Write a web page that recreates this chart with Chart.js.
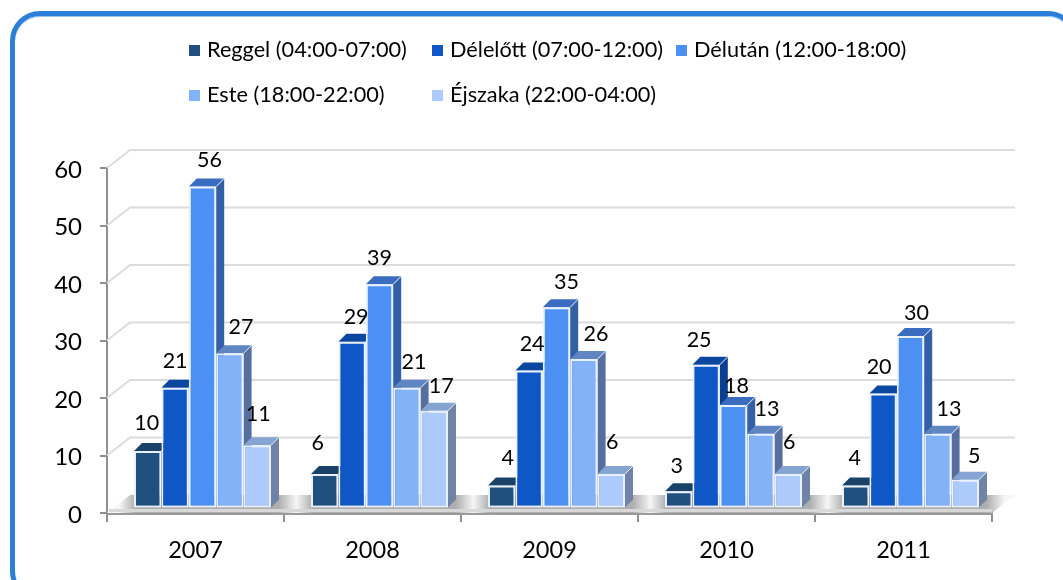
<!DOCTYPE html>
<html>
<head>
<meta charset="utf-8">
<style>
html,body{margin:0;padding:0;background:#fff;width:1063px;height:580px;overflow:hidden}
#wrap{position:absolute;left:0;top:0;width:1063px;height:580px;overflow:hidden}
#frame{position:absolute;left:10px;top:11px;width:1068px;height:590px;border:5px solid #2b7fd8;border-radius:30px;box-sizing:border-box;box-shadow:inset 0 1px 0 0 #9cc4ee}
canvas{position:absolute;left:0;top:0}
</style>
<script src="https://cdn.jsdelivr.net/npm/chart.js@4"></script>
</head>
<body>
<div id="wrap"><div id="frame"></div><canvas id="c" width="1063" height="580"></canvas></div>
<script>
const years = ['2007','2008','2009','2010','2011'];
const seriesNames = ['Reggel (04:00-07:00)','Délelőtt (07:00-12:00)','Délután (12:00-18:00)','Este (18:00-22:00)','Éjszaka (22:00-04:00)'];
const reggel  = [10,6,4,3,4];
const delelott= [21,29,24,25,20];
const delutan = [56,39,35,18,30];
const este    = [27,21,26,13,13];
const ejszaka = [11,17,6,6,5];
const yTicks  = [0,10,20,30,40,50,60];

const frontColors = ['#21507f','#0f57c6','#4b90f2','#83b2f8','#accbfc'];
const sideColors  = ['#183a5c','#0c3f90','#335fa6','#566f9f','#6e83a6'];
const topColors   = ['#1a4168','#0c479f','#3a6cbf','#5f85c2','#86a4d2'];

// label nudges, [series][year], relative to the top-centre of each bar
const labelDX = [[-1,-7,6,-2,-1],[0,4,3,-7,-4],[7,0,10,3,6],[11,7,12,6,11],[1,7,1,1,9]];
const labelDY = [[-28,-31,-27,-25,-27],[-27,-25,-26,-25,-26],[-26,-26,-25,-19,-23],[-26,-26,-25,-25,-25],[-31,-25,-32,-32,-24]];

const FONT = 'Lato, Carlito, sans-serif';
const DEPTH_X = 23, DEPTH_Y = 18;   // back wall offset
const BAR_DX = 7, BAR_DY = 4.5;     // bars stand inside the floor
const BAR_DEPTH_X = 8, BAR_DEPTH_Y = 8;

function barTransform(ctx){
  ctx.translate(BAR_DX, -BAR_DY);
}

const wall3d = {
  id:'wall3d',
  beforeDatasetsDraw(chart){
    const {ctx, scales:{x,y}} = chart;
    const L = x.left, R = x.right, B = y.getPixelForValue(0);
    ctx.save();
    // gridlines: side wall and back wall
    ctx.strokeStyle = '#dcdcdc'; ctx.lineWidth = 2;
    yTicks.forEach(v=>{
      if(v===0) return;
      const p = y.getPixelForValue(v);
      ctx.beginPath();
      ctx.moveTo(L,p); ctx.lineTo(L+DEPTH_X,p-DEPTH_Y); ctx.lineTo(R+DEPTH_X,p-DEPTH_Y);
      ctx.stroke();
    });
    // floor: a soft grey band that lightens in each gap between year groups
    const span = R+DEPTH_X-L, period = (R-L)/years.length/span;
    const g = ctx.createLinearGradient(L,0,R+DEPTH_X,0);
    for(let i=0;i<=years.length;i++){
      const s=i*period;
      [[-0.03,'#aeaeae'],[0.07,'#f6f6f6'],[0.16,'#aeaeae']].forEach(([o,c])=>{
        const t=s+o*period;
        if(t>=0&&t<=1) g.addColorStop(t,c);
      });
    }
    ctx.fillStyle = g;
    ctx.beginPath();
    ctx.moveTo(L,B); ctx.lineTo(L+DEPTH_X,B-DEPTH_Y); ctx.lineTo(R+DEPTH_X,B-DEPTH_Y); ctx.lineTo(R,B);
    ctx.closePath(); ctx.fill();
    ctx.fillStyle='#d8d8d8';
    ctx.fillRect(L+2,B-4,R-L-2,3);
    ctx.restore();
    // bar sides and tops
    ctx.save();
    barTransform(ctx);
    chart.data.datasets.forEach((ds,i)=>{
      chart.getDatasetMeta(i).data.forEach(el=>{
        const p = el.getProps(['x','y','base','width'],false);
        const l=p.x-p.width/2, r=p.x+p.width/2, t=p.y, b=p.base;
        ctx.fillStyle = sideColors[i];
        ctx.strokeStyle = 'rgba(235,242,255,.9)'; ctx.lineWidth = 1;
        ctx.beginPath();
        ctx.moveTo(r,t); ctx.lineTo(r+BAR_DEPTH_X,t-BAR_DEPTH_Y); ctx.lineTo(r+BAR_DEPTH_X,b-BAR_DEPTH_Y); ctx.lineTo(r,b);
        ctx.closePath(); ctx.fill();
        ctx.fillStyle = topColors[i];
        ctx.beginPath();
        ctx.moveTo(l,t); ctx.lineTo(l+BAR_DEPTH_X,t-BAR_DEPTH_Y); ctx.lineTo(r+BAR_DEPTH_X,t-BAR_DEPTH_Y); ctx.lineTo(r,t);
        ctx.closePath(); ctx.fill();
        ctx.beginPath(); ctx.moveTo(r,t); ctx.lineTo(r+BAR_DEPTH_X,t-BAR_DEPTH_Y); ctx.stroke();
      });
    });
    ctx.restore();
    ctx.save();
    barTransform(ctx);
  },
  afterDatasetsDraw(chart){
    const {ctx} = chart;
    // value labels
    ctx.fillStyle='#000'; ctx.font='21.5px '+FONT; ctx.textAlign='center'; ctx.textBaseline='middle';
    chart.data.datasets.forEach((ds,i)=>{
      chart.getDatasetMeta(i).data.forEach((el,j)=>{
        const p = el.getProps(['x','y'],false);
        ctx.fillText(String(ds.data[j]), p.x+labelDX[i][j], p.y+labelDY[i][j]);
      });
    });
    ctx.restore();
    // legend in a two-row column layout
    const colX=[189,432,676], rowY=[50,95];
    ctx.save();
    ctx.font='21.7px '+FONT; ctx.textAlign='left'; ctx.textBaseline='middle';
    chart.data.datasets.forEach((ds,i)=>{
      const cx=colX[i%3], cy=rowY[Math.floor(i/3)];
      ctx.fillStyle=frontColors[i];
      ctx.fillRect(cx,cy-5,11,11);
      ctx.fillStyle='#000';
      ctx.fillText(ds.label,cx+18,cy);
    });
    ctx.restore();
  }
};

new Chart(document.getElementById('c'),{
  type:'bar',
  data:{labels:years,datasets:[reggel,delelott,delutan,este,ejszaka].map((d,i)=>({
    label:seriesNames[i],data:d,backgroundColor:frontColors[i],
    borderColor:'#eaf1fe',borderWidth:2,borderSkipped:false,
    barPercentage:1,categoryPercentage:0.774
  }))},
  options:{
    responsive:false,animation:false,
    layout:{padding:{left:0,top:168,right:71,bottom:0}},
    plugins:{legend:{display:false},tooltip:{enabled:false},title:{display:false}},
    scales:{
      x:{
        afterFit(s){s.height=67;},
        grid:{drawOnChartArea:false,drawTicks:true,tickLength:9,color:'#8f8f8f',lineWidth:2,tickColor:'#8f8f8f'},
        border:{display:true,color:'#9a9a9a',width:3},
        ticks:{color:'#000',font:{family:FONT,size:23.5},padding:14,maxRotation:0}
      },
      y:{
        min:0,max:60,
        afterFit(s){s.width=107;},
        afterBuildTicks(s){s.ticks=yTicks.map(v=>({value:v}));},
        grid:{drawOnChartArea:false,drawTicks:true,tickLength:7,color:'#8f8f8f',lineWidth:2,tickColor:'#8f8f8f'},
        border:{display:true,color:'#8f8f8f',width:2},
        ticks:{color:'#000',font:{family:FONT,size:24},padding:18,labelOffset:2}
      }
    }
  },
  plugins:[wall3d]
});
</script>
</body>
</html>
